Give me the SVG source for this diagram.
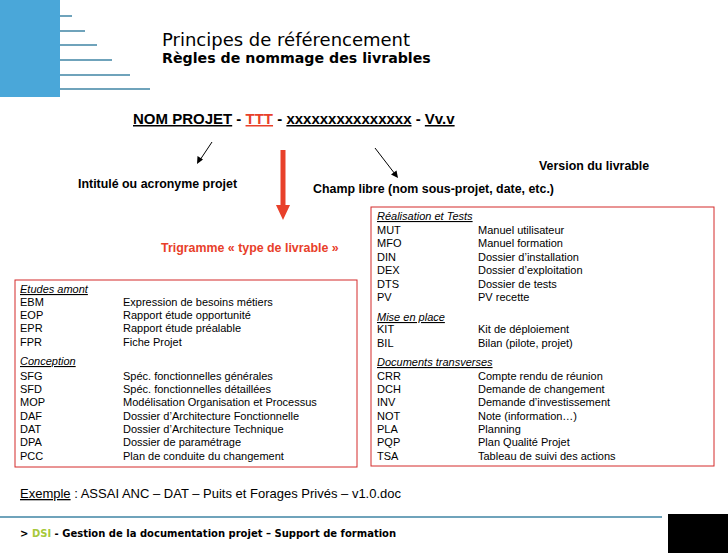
<svg xmlns="http://www.w3.org/2000/svg" width="728" height="553" viewBox="0 0 728 553">
<defs>
<style>
text{font-family:"Liberation Sans",Arial,sans-serif;font-size:11px;fill:#000}
.b{font-weight:bold}
.lb{font-weight:bold;font-size:12.4px}
.it{font-style:italic;text-decoration:underline}
.box{fill:none;stroke:#d42b2b;stroke-width:1}
.ln{stroke:#6fa3bb;stroke-width:2}
.v{font-family:"DejaVu Sans",sans-serif}
</style>
</defs>
<g id="logo">
<rect x="0" y="0" width="60" height="97" fill="#4aa7d9"/>
<line class="ln" x1="60" y1="16" x2="72" y2="16"/>
<line class="ln" x1="60" y1="31" x2="85" y2="31"/>
<line class="ln" x1="60" y1="45" x2="97" y2="45"/>
<line class="ln" x1="60" y1="60" x2="112" y2="60"/>
<line class="ln" x1="60" y1="75" x2="130" y2="75"/>
<line class="ln" x1="60" y1="89" x2="150" y2="89"/>
</g>
<g id="title">
<text x="162" y="46" class="v" style="font-size:18px">Principes de référencement</text>
<text x="162" y="63" class="v b" style="font-size:14.2px">Règles de nommage des livrables</text>
</g>
<g id="name">
<text x="133" y="124" class="b" style="font-size:15px"><tspan text-decoration="underline">NOM PROJET</tspan> - <tspan fill="#e8402a" text-decoration="underline">TTT</tspan> - <tspan text-decoration="underline">xxxxxxxxxxxxxxx</tspan> - <tspan text-decoration="underline">Vv.v</tspan></text>
</g>
<g id="connectors">
<line x1="212" y1="142" x2="200" y2="160" stroke="#000"/>
<path d="M197,164 L197.5,156 L203,159.5 z" fill="#000"/>
<line x1="375" y1="148" x2="395" y2="174" stroke="#000"/>
<path d="M398,178 L391,174.5 L396.5,170.5 z" fill="#000"/>
<line x1="283" y1="150" x2="283" y2="205" stroke="#e8402a" stroke-width="5"/>
<path d="M276,205 L290,205 L283,220 z" fill="#e8402a"/>
</g>
<g id="labels">
<text x="78" y="188" class="lb">Intitulé ou acronyme projet</text>
<text x="313" y="193" class="lb">Champ libre (nom sous-projet, date, etc.)</text>
<text x="539" y="170" class="lb">Version du livrable</text>
<text x="161" y="252" class="lb" style="fill:#e8402a">Trigramme « type de livrable »</text>
</g>
<g id="box-left">
<rect class="box" x="15" y="280" width="342" height="187"/>
<text x="20" y="293" class="it">Etudes amont</text>
<text x="20" y="306">EBM</text><text x="123" y="306">Expression de besoins métiers</text>
<text x="20" y="319">EOP</text><text x="123" y="319">Rapport étude opportunité</text>
<text x="20" y="332">EPR</text><text x="123" y="332">Rapport étude préalable</text>
<text x="20" y="346">FPR</text><text x="123" y="346">Fiche Projet</text>
<text x="20" y="365" class="it">Conception</text>
<text x="20" y="380">SFG</text><text x="123" y="380">Spéc. fonctionnelles générales</text>
<text x="20" y="393">SFD</text><text x="123" y="393">Spéc. fonctionnelles détaillées</text>
<text x="20" y="406">MOP</text><text x="123" y="406">Modélisation Organisation et Processus</text>
<text x="20" y="420">DAF</text><text x="123" y="420">Dossier d’Architecture Fonctionnelle</text>
<text x="20" y="433">DAT</text><text x="123" y="433">Dossier d’Architecture Technique</text>
<text x="20" y="446">DPA</text><text x="123" y="446">Dossier de paramétrage</text>
<text x="20" y="460">PCC</text><text x="123" y="460">Plan de conduite du changement</text>
</g>
<g id="box-right">
<rect class="box" x="371" y="207" width="343" height="259"/>
<text x="377" y="220" class="it">Réalisation et Tests</text>
<text x="377" y="234">MUT</text><text x="478" y="234">Manuel utilisateur</text>
<text x="377" y="247">MFO</text><text x="478" y="247">Manuel formation</text>
<text x="377" y="261">DIN</text><text x="478" y="261">Dossier d’installation</text>
<text x="377" y="274">DEX</text><text x="478" y="274">Dossier d’exploitation</text>
<text x="377" y="288">DTS</text><text x="478" y="288">Dossier de tests</text>
<text x="377" y="301">PV</text><text x="478" y="301">PV recette</text>
<text x="377" y="321" class="it">Mise en place</text>
<text x="377" y="333">KIT</text><text x="478" y="333">Kit de déploiement</text>
<text x="377" y="347">BIL</text><text x="478" y="347">Bilan (pilote, projet)</text>
<text x="377" y="366" class="it">Documents transverses</text>
<text x="377" y="380">CRR</text><text x="478" y="380">Compte rendu de réunion</text>
<text x="377" y="393">DCH</text><text x="478" y="393">Demande de changement</text>
<text x="377" y="406">INV</text><text x="478" y="406">Demande d’investissement</text>
<text x="377" y="420">NOT</text><text x="478" y="420">Note (information…)</text>
<text x="377" y="433">PLA</text><text x="478" y="433">Planning</text>
<text x="377" y="446">PQP</text><text x="478" y="446">Plan Qualité Projet</text>
<text x="377" y="460">TSA</text><text x="478" y="460">Tableau de suivi des actions</text>
</g>
<g id="example">
<text x="20" y="498" style="font-size:13px"><tspan text-decoration="underline">Exemple</tspan> : ASSAI ANC – DAT – Puits et Forages Privés – v1.0.doc</text>
</g>
<g id="footer">
<line x1="0" y1="517" x2="662" y2="517" stroke="#6fa3bb" stroke-width="2"/>
<rect x="668" y="514" width="60" height="39" fill="#000"/>
<text x="20" y="537" class="v b" style="font-size:10px">&gt; <tspan fill="#a6c83a">DSI</tspan>  - Gestion de la documentation projet – Support de formation</text>
</g>
</svg>
